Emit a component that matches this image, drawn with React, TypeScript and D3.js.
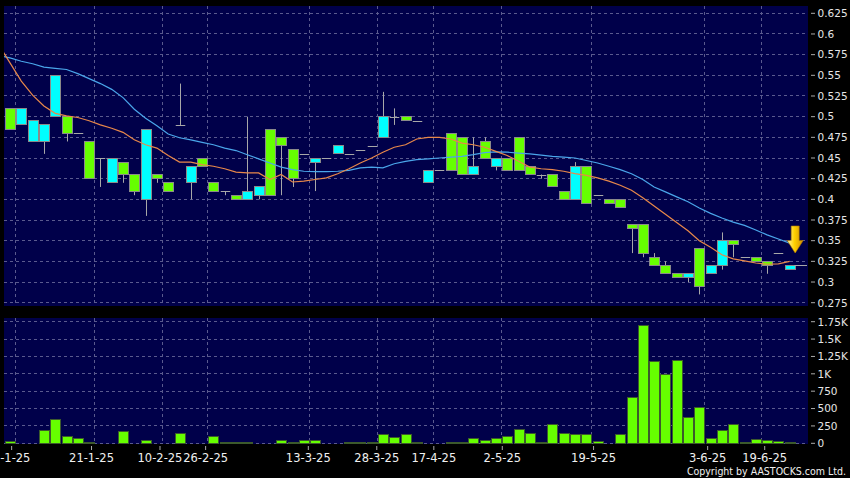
import React from "react";
import * as d3 from "d3";

// ---- data ----
const opens = [0.51,0.49,0.47,0.47,0.50,0.50,0.48,0.47,0.45,0.42,0.445,0.43,0.40,0.43,0.42,0.49,0.42,0.45,0.42,0.41,0.405,0.40,0.405,0.485,0.475,0.46,0.455,0.445,0.45,0.455,0.455,0.46,0.465,0.475,0.50,0.50,0.495,0.42,0.435,0.48,0.475,0.43,0.47,0.44,0.45,0.475,0.44,0.43,0.43,0.41,0.40,0.44,0.405,0.40,0.40,0.37,0.37,0.33,0.32,0.31,0.305,0.34,0.31,0.32,0.35,0.33,0.33,0.325,0.335,0.315];
const highs = [0.51,0.51,0.495,0.49,0.55,0.50,0.48,0.47,0.45,0.45,0.445,0.43,0.485,0.43,0.42,0.54,0.44,0.45,0.42,0.41,0.405,0.50,0.415,0.485,0.475,0.46,0.455,0.45,0.45,0.465,0.455,0.46,0.465,0.53,0.51,0.50,0.495,0.435,0.435,0.48,0.475,0.475,0.475,0.45,0.45,0.475,0.44,0.43,0.43,0.41,0.445,0.44,0.405,0.40,0.40,0.37,0.37,0.335,0.325,0.31,0.31,0.34,0.32,0.36,0.35,0.33,0.33,0.325,0.335,0.32];
const lows = [0.485,0.49,0.47,0.455,0.50,0.47,0.48,0.425,0.415,0.42,0.42,0.405,0.38,0.42,0.41,0.49,0.40,0.44,0.41,0.405,0.40,0.40,0.40,0.405,0.405,0.415,0.455,0.41,0.45,0.455,0.455,0.46,0.465,0.475,0.49,0.495,0.495,0.42,0.435,0.435,0.43,0.43,0.45,0.435,0.435,0.435,0.43,0.425,0.415,0.40,0.40,0.395,0.405,0.395,0.39,0.335,0.33,0.32,0.31,0.305,0.30,0.285,0.31,0.315,0.33,0.33,0.325,0.31,0.335,0.315];
const closes = [0.485,0.51,0.495,0.49,0.55,0.48,0.48,0.425,0.45,0.45,0.43,0.41,0.485,0.425,0.41,0.49,0.44,0.44,0.41,0.41,0.40,0.41,0.415,0.405,0.465,0.425,0.455,0.45,0.45,0.465,0.455,0.46,0.465,0.50,0.50,0.495,0.495,0.435,0.435,0.435,0.43,0.44,0.45,0.45,0.435,0.435,0.43,0.43,0.415,0.40,0.44,0.395,0.405,0.395,0.39,0.365,0.335,0.32,0.31,0.305,0.31,0.295,0.32,0.35,0.345,0.33,0.325,0.32,0.335,0.32];
const volumes = [20,0,0,182,345,96,62,10,0,0,172,0,38,0,0,134,0,0,100,12,10,10,0,0,43,10,43,47,0,0,10,10,12,125,80,125,12,0,0,10,12,62,38,72,105,205,134,10,273,145,129,129,33,0,125,656,1700,1173,991,1197,368,517,66,181,277,15,57,37,20,15];
// moving averages; first entry is the previous session (drawn at index -1, clipped)
const maShort = [0.587,0.565,0.543,0.526,0.513,0.504,0.501,0.499,0.495,0.490,0.486,0.481,0.472,0.466,0.462,0.453,0.445,0.445,0.442,0.440,0.437,0.433,0.432,0.432,0.424,0.430,0.421,0.422,0.424,0.426,0.431,0.437,0.444,0.450,0.457,0.463,0.466,0.473,0.475,0.475,0.473,0.468,0.466,0.463,0.458,0.453,0.446,0.439,0.437,0.436,0.434,0.431,0.429,0.426,0.422,0.417,0.411,0.402,0.392,0.382,0.372,0.362,0.350,0.342,0.333,0.328,0.3255,0.323,0.3215,0.322,0.325];
const maLong = [0.574,0.571,0.567,0.564,0.560,0.5585,0.557,0.552,0.546,0.540,0.533,0.523,0.509,0.498,0.489,0.479,0.4745,0.472,0.469,0.466,0.462,0.459,0.454,0.449,0.444,0.439,0.436,0.434,0.4335,0.4335,0.434,0.435,0.438,0.439,0.438,0.443,0.446,0.448,0.449,0.450,0.451,0.452,0.454,0.4565,0.4575,0.457,0.456,0.455,0.4535,0.452,0.451,0.450,0.447,0.444,0.440,0.436,0.431,0.424,0.415,0.409,0.403,0.397,0.3895,0.383,0.3775,0.3725,0.3685,0.363,0.357,0.352,0.347];
const tickIndex = [1, 8, 14, 18, 27, 33, 38, 44, 52, 62, 67];
const tickLabels = ["2-1-25","21-1-25","10-2-25","26-2-25","13-3-25","28-3-25","17-4-25","2-5-25","19-5-25","3-6-25","19-6-25"];
const priceTicks = [0.275,0.3,0.325,0.35,0.375,0.4,0.425,0.45,0.475,0.5,0.525,0.55,0.575,0.6,0.625];
const volTicks = [0,250,500,750,1000,1250,1500,1750];

const W = 850, H = 478;
const PL = 4, PR = 808;
const P1T = 6, P1B = 306, P2T = 318, P2B = 444;
const BG = "#00004a";
const GRID = "#5a5a8e";
const GREEN = "#66ff00";
const CYAN = "#00ffff";
const FONT = "DejaVu Sans, Verdana, sans-serif";

export default function App() {
  const n = closes.length;
  const x = d3.scaleLinear().domain([0, n - 1]).range([10, 10 + (n - 1) * 11.3]);
  const tickX = d3.scaleLinear().domain([0, n - 1]).range([5.95, 5.95 + (n - 1) * 11.41]);
  const py = d3.scaleLinear().domain([0.275, 0.625]).range([302.7, 13.3]);
  const vy = d3.scaleLinear().domain([0, 1750]).range([443.3, 321.7]);
  const bw = 9.5;

  const lineGen = (arr: number[]) =>
    d3.line<number>().x((_, i) => x(i - 1)).y((v) => py(v))(arr) || "";

  const fmtP = (v: number) => String(+v.toFixed(3));
  const fmtV = (v: number) => (v >= 1000 ? String(+(v / 1000).toFixed(2)) + "K" : String(v));

  const ax = x(n - 1) + 5.5;
  return (
    <div style={{ position: "absolute", left: 0, top: 0 }}>
      <svg width={W} height={H} style={{ display: "block" }}>
        <defs>
          <clipPath id="pclip"><rect x={PL} y={P1T} width={PR - PL} height={P1B - P1T} /></clipPath>
          <linearGradient id="arrowG" x1="0" x2="1" y1="0" y2="0">
            <stop offset="0" stopColor="#fff4a0" />
            <stop offset="0.45" stopColor="#ffd000" />
            <stop offset="1" stopColor="#d08c00" />
          </linearGradient>
        </defs>
        <rect x={0} y={0} width={W} height={H} fill="#000" />
        <rect x={PL} y={P1T} width={PR - PL} height={P1B - P1T} fill={BG} />
        <rect x={PL} y={P2T} width={PR - PL} height={P2B - P2T} fill={BG} />

        {/* grids */}
        <g stroke={GRID} strokeWidth={1} strokeDasharray="3,3" shapeRendering="crispEdges">
          {priceTicks.map((t) => (
            <line key={"ph" + t} x1={PL} x2={PR} y1={py(t)} y2={py(t)} />
          ))}
          {volTicks.map((t) => (
            <line key={"vh" + t} x1={PL} x2={PR} y1={vy(t)} y2={vy(t)} />
          ))}
          {tickIndex.map((t) => (
            <g key={"vg" + t}>
              <line x1={x(t - 0.5)} x2={x(t - 0.5)} y1={P1T} y2={P1B} />
              <line x1={x(t - 0.5)} x2={x(t - 0.5)} y1={P2T} y2={P2B} />
            </g>
          ))}
        </g>

        {/* candles */}
        <g clipPath="url(#pclip)">
          {closes.map((c, i) => {
            const o = opens[i], h = highs[i], l = lows[i];
            const cx = Math.round(x(i)) + 0.5;
            const top = Math.max(o, c), bot = Math.min(o, c);
            const els = [] as any[];
            if (h > l) {
              els.push(<line key="w" x1={cx} x2={cx} y1={py(h)} y2={py(l)} stroke="#a8a8a8" strokeWidth={1} />);
            }
            if (o === c) {
              els.push(<line key="d" x1={cx - bw / 2} x2={cx + bw / 2} y1={Math.round(py(c)) + 0.5} y2={Math.round(py(c)) + 0.5} stroke="#a8a8a8" strokeWidth={1} />);
            } else {
              els.push(
                <rect key="b" x={cx - bw / 2} y={py(top)} width={bw} height={py(bot) - py(top)}
                  fill={c > o ? CYAN : GREEN} stroke="#8a8a8a" strokeWidth={1} shapeRendering="crispEdges" />
              );
            }
            return <g key={i}>{els}</g>;
          })}
          <line x1={x(n - 1) + bw / 2} x2={PR - 1} y1={Math.round(py(closes[n - 1])) + 0.5} y2={Math.round(py(closes[n - 1])) + 0.5} stroke="#a8a8a8" />
          <path d={lineGen(maLong)} fill="none" stroke="#4aa6ea" strokeWidth={1.2} />
          <path d={lineGen(maShort)} fill="none" stroke="#e8884a" strokeWidth={1.2} />
        </g>

        {/* arrow */}
        <path
          d={`M${ax - 4},226 L${ax + 4},226 L${ax + 4},240.5 L${ax + 8},240.5 L${ax},253 L${ax - 8},240.5 L${ax - 4},240.5 Z`}
          fill="url(#arrowG)" stroke="#b07800" strokeWidth={0.6}
        />

        {/* volume */}
        <g shapeRendering="crispEdges">
          {volumes.map((v, i) =>
            v > 0 ? (
              <rect key={i} x={Math.round(x(i)) + 0.5 - bw / 2} y={vy(v)} width={bw} height={vy(0) - vy(v)}
                fill={GREEN} stroke="#3c5a2c" strokeWidth={1} />
            ) : null
          )}
        </g>

        {/* right axes */}
        <g fontFamily={FONT} fontSize={10.5} fill="#e6e6e6">
          {priceTicks.map((t) => (
            <g key={"pt" + t}>
              <line x1={811} x2={815} y1={py(t)} y2={py(t)} stroke="#aaa" />
              <text x={817.5} y={py(t) + 3.8}>{fmtP(t)}</text>
            </g>
          ))}
          {volTicks.map((t) => (
            <g key={"vt" + t}>
              <line x1={811} x2={815} y1={vy(t)} y2={vy(t)} stroke="#aaa" />
              <text x={817.5} y={vy(t) + 3.8}>{fmtV(t)}</text>
            </g>
          ))}
        </g>

        {/* x axis */}
        <g fontFamily={FONT} fontSize={11.5} fill="#f0f0f0" textAnchor="middle">
          {tickIndex.map((t, k) => (
            <g key={"xt" + t}>
              <line x1={tickX(t - 0.5)} x2={tickX(t - 0.5)} y1={446} y2={450} stroke="#aaa" />
              <text x={tickX(t - 0.5)} y={461.5}>{tickLabels[k]}</text>
            </g>
          ))}
        </g>
        <text x={846} y={474.5} textAnchor="end" fontFamily="DejaVu Sans Condensed, DejaVu Sans, sans-serif" fontStretch="condensed" fontSize={10.5} fill="#f0f0f0">
          Copyright by AASTOCKS.com Ltd.
        </text>
      </svg>
    </div>
  );
}
